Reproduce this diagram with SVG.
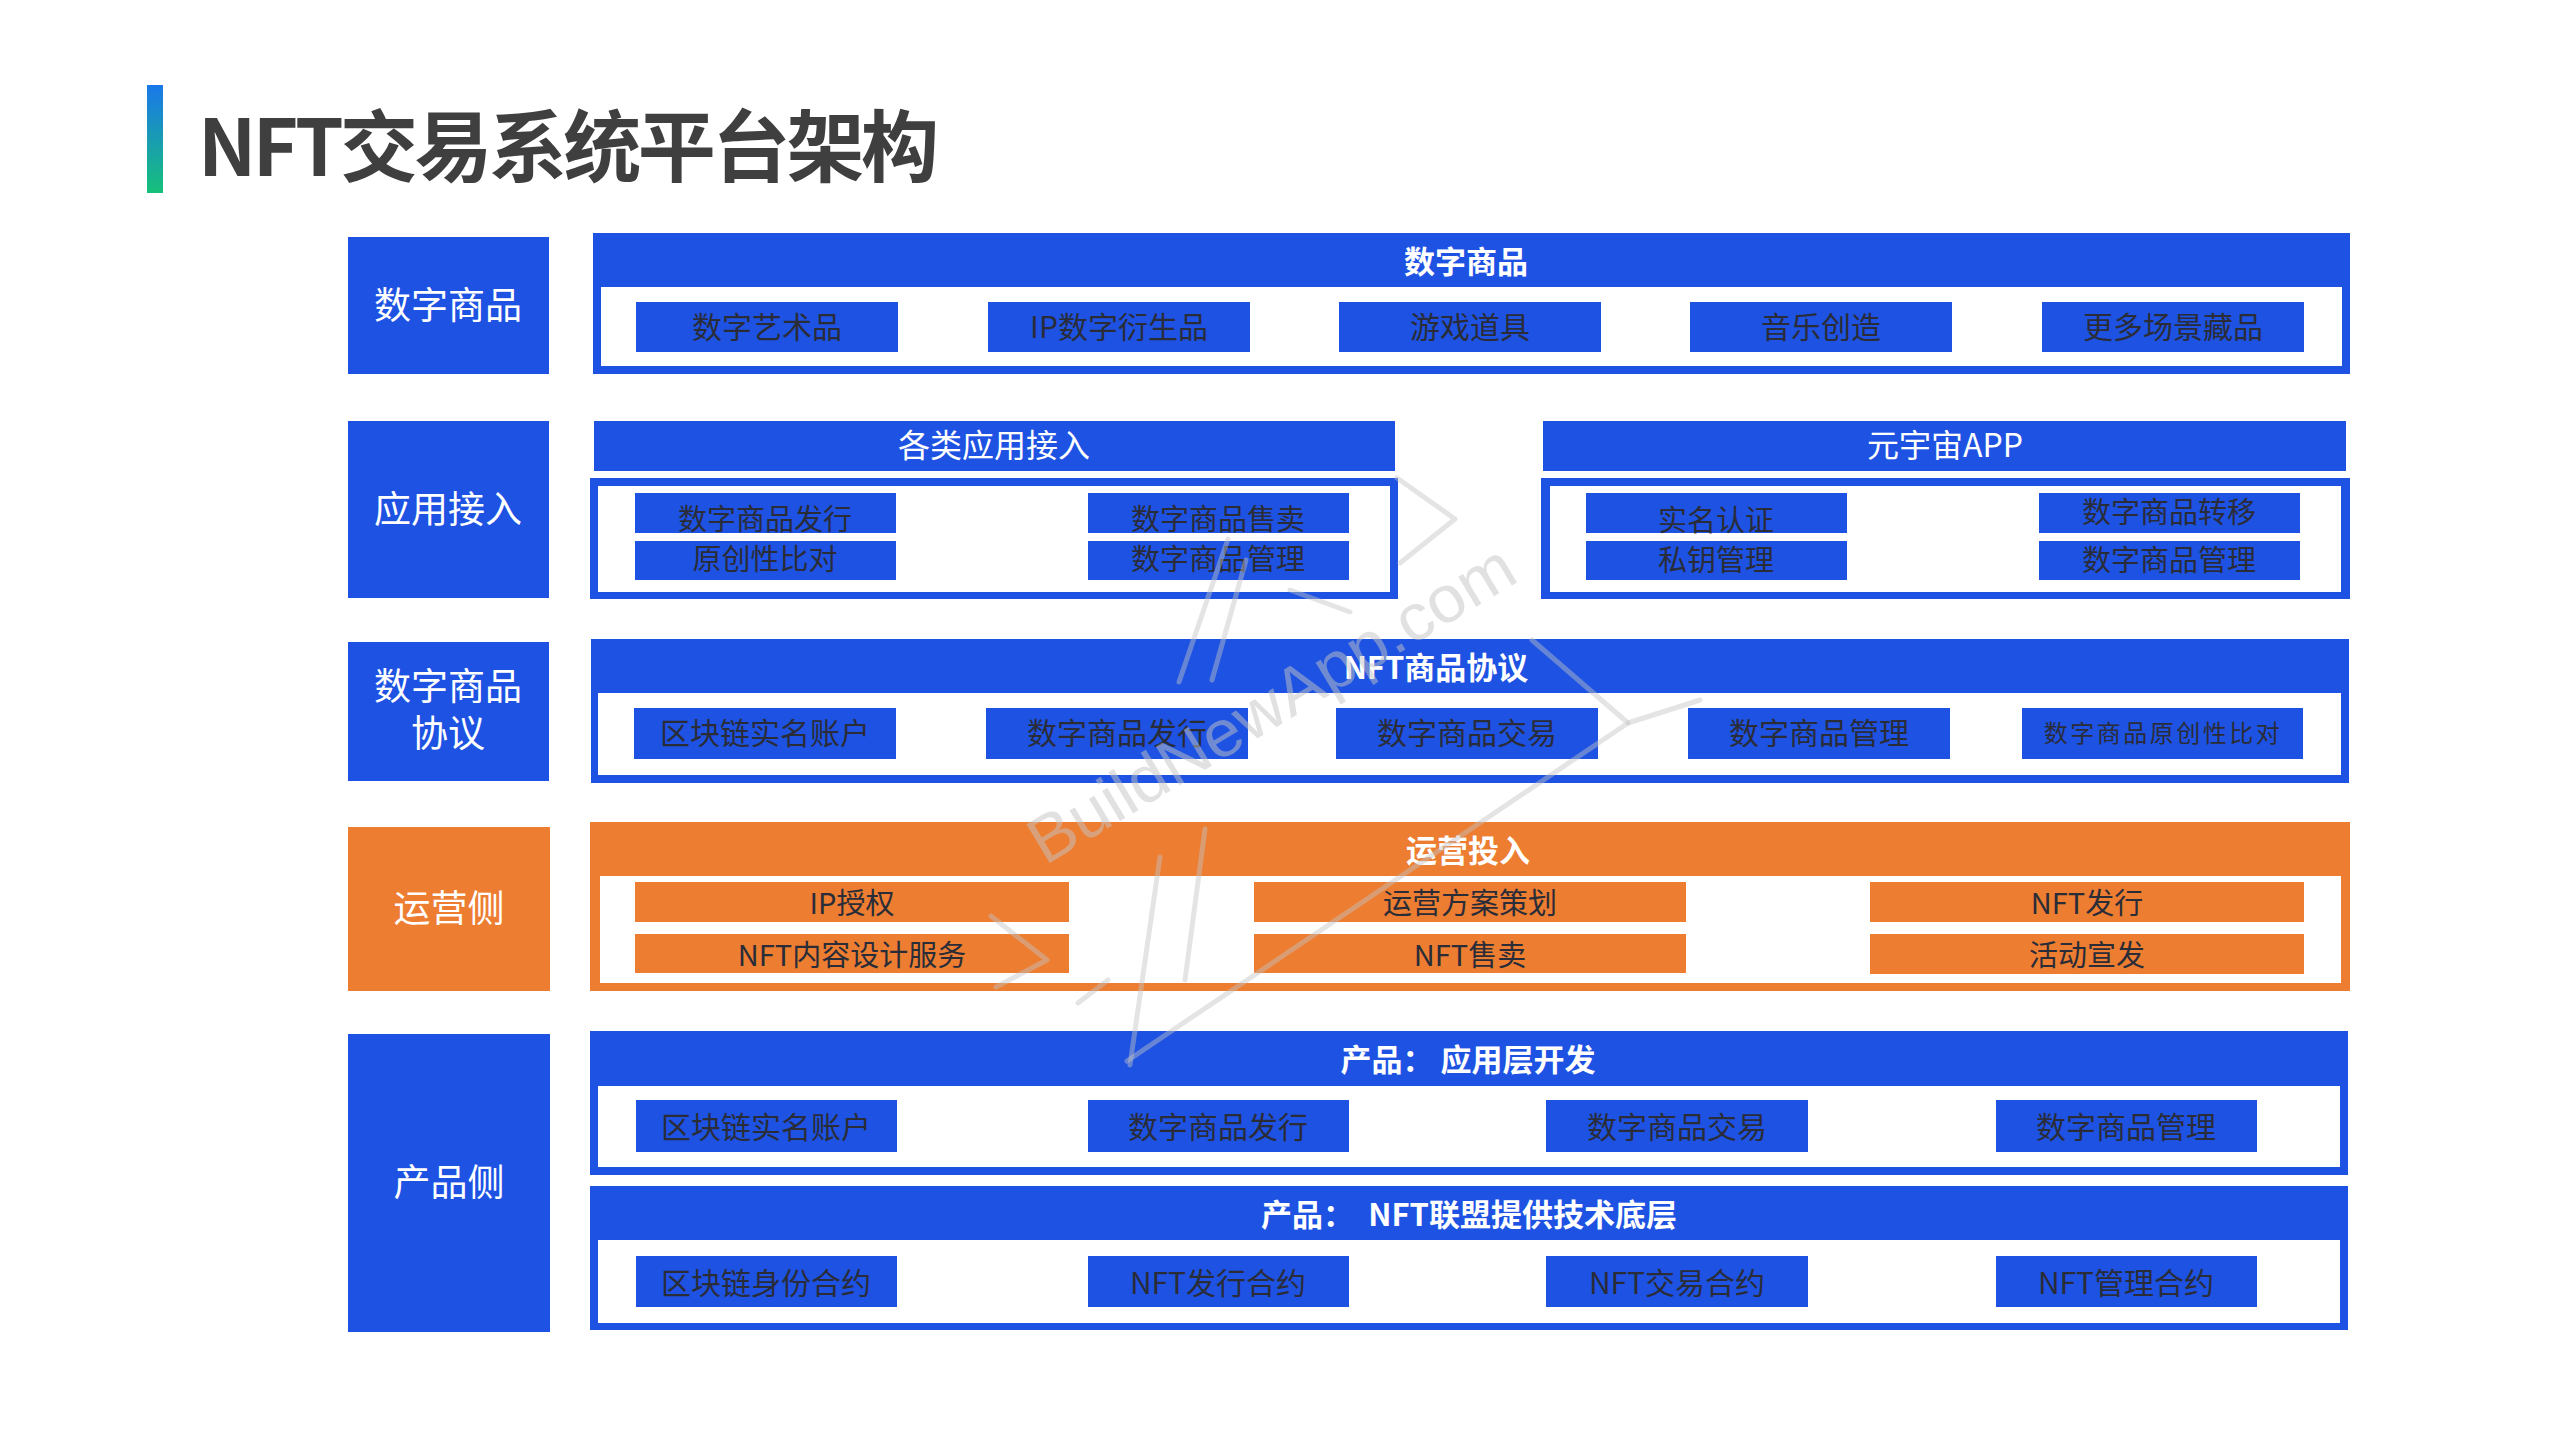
<svg xmlns="http://www.w3.org/2000/svg" width="2560" height="1440" viewBox="0 0 2560 1440">
<defs>
<linearGradient id="barGrad" x1="0" y1="0" x2="0" y2="1">
<stop offset="0" stop-color="#1a78ea"/>
<stop offset="1" stop-color="#17c07a"/>
</linearGradient>
<style>
.t{font-family:"Noto Sans CJK SC","Noto Sans",sans-serif;text-anchor:middle;dominant-baseline:central;}
.blue{fill:#1d52e3;}
.orange{fill:#ed7d31;}
.white{fill:#ffffff;}
.lbl{font-size:37px;fill:#ffffff;}
.hdr{font-size:31px;fill:#ffffff;font-weight:bold;}
.hdrn{font-size:32px;fill:#ffffff;}
.it{font-size:30px;fill:#2a2c38;}
.it2{font-size:29px;fill:#2a2c38;}
.its{font-size:24px;fill:#2a2c38;letter-spacing:2.5px;}
.wm{fill:none;stroke:#c4c4c4;stroke-width:5;stroke-linecap:round;stroke-linejoin:round;opacity:0.45;}
</style>
</defs>
<rect width="2560" height="1440" fill="#ffffff"/>

<g id="title">
<rect x="147" y="85" width="16" height="108" fill="url(#barGrad)"/>
<text x="198" y="142" font-family="'Noto Sans CJK SC','Noto Sans',sans-serif" font-size="78" font-weight="bold" fill="#3f3f3f" dominant-baseline="central" textLength="741" lengthAdjust="spacing">NFT交易系统平台架构</text>
</g>

<!-- Left labels -->
<g id="label-digital-goods">
<rect class="blue" x="348" y="237" width="201" height="137"/>
<text class="t lbl" x="448" y="303">数字商品</text>
</g>
<g id="label-app-access">
<rect class="blue" x="348" y="421" width="201" height="177"/>
<text class="t lbl" x="448" y="507">应用接入</text>
</g>
<g id="label-protocol">
<rect class="blue" x="348" y="642" width="201" height="139"/>
<text class="t lbl" x="448" y="684"><tspan x="448" y="684">数字商品</tspan><tspan x="448" y="731">协议</tspan></text>
</g>
<g id="label-operation">
<rect class="orange" x="348" y="827" width="202" height="164"/>
<text class="t lbl" x="449" y="906">运营侧</text>
</g>
<g id="label-product">
<rect class="blue" x="348" y="1034" width="202" height="298"/>
<text class="t lbl" x="449" y="1180">产品侧</text>
</g>

<!-- Row 1 -->
<g id="panel-digital-goods">
<rect class="blue" x="593" y="233" width="1757" height="141"/>
<rect class="white" x="601" y="287" width="1741" height="79"/>
<text class="t hdr" x="1466" y="259">数字商品</text>
<rect class="blue" x="636" y="302" width="262" height="50"/>
<text class="t it" x="767" y="325">数字艺术品</text>
<rect class="blue" x="988" y="302" width="262" height="50"/>
<text class="t it" x="1119" y="325">IP数字衍生品</text>
<rect class="blue" x="1339" y="302" width="262" height="50"/>
<text class="t it" x="1470" y="325">游戏道具</text>
<rect class="blue" x="1690" y="302" width="262" height="50"/>
<text class="t it" x="1821" y="325">音乐创造</text>
<rect class="blue" x="2042" y="302" width="262" height="50"/>
<text class="t it" x="2173" y="325">更多场景藏品</text>
</g>

<!-- Row 2 left -->
<g id="panel-app-access">
<rect class="blue" x="594" y="421" width="801" height="50"/>
<text class="t hdrn" x="994" y="443">各类应用接入</text>
<rect class="blue" x="590" y="478" width="808" height="121"/>
<rect class="white" x="598" y="486" width="792" height="106"/>
<rect class="blue" x="635" y="493" width="261" height="40"/>
<text class="t it2" x="765" y="517">数字商品发行</text>
<rect class="blue" x="635" y="541" width="261" height="39"/>
<text class="t it2" x="765" y="557">原创性比对</text>
<rect class="blue" x="1088" y="493" width="261" height="40"/>
<text class="t it2" x="1218" y="517">数字商品售卖</text>
<rect class="blue" x="1088" y="541" width="261" height="39"/>
<text class="t it2" x="1218" y="557">数字商品管理</text>
</g>

<!-- Row 2 right -->
<g id="panel-metaverse-app">
<rect class="blue" x="1543" y="421" width="803" height="50"/>
<text class="t hdrn" x="1945" y="443">元宇宙APP</text>
<rect class="blue" x="1541" y="478" width="809" height="121"/>
<rect class="white" x="1550" y="486" width="791" height="106"/>
<rect class="blue" x="1586" y="493" width="261" height="40"/>
<text class="t it2" x="1716" y="518">实名认证</text>
<rect class="blue" x="1586" y="541" width="261" height="39"/>
<text class="t it2" x="1716" y="558">私钥管理</text>
<rect class="blue" x="2039" y="493" width="261" height="40"/>
<text class="t it2" x="2169" y="510">数字商品转移</text>
<rect class="blue" x="2039" y="541" width="261" height="39"/>
<text class="t it2" x="2169" y="558">数字商品管理</text>
</g>

<!-- Row 3 -->
<g id="panel-nft-protocol">
<rect class="blue" x="591" y="639" width="1758" height="144"/>
<rect class="white" x="598" y="693" width="1743" height="82"/>
<text class="t hdr" x="1436" y="665">NFT商品协议</text>
<rect class="blue" x="634" y="708" width="262" height="51"/>
<text class="t it" x="765" y="731">区块链实名账户</text>
<rect class="blue" x="986" y="708" width="262" height="51"/>
<text class="t it" x="1117" y="731">数字商品发行</text>
<rect class="blue" x="1336" y="708" width="262" height="51"/>
<text class="t it" x="1467" y="731">数字商品交易</text>
<rect class="blue" x="1688" y="708" width="262" height="51"/>
<text class="t it" x="1819" y="731">数字商品管理</text>
<rect class="blue" x="2022" y="708" width="281" height="51"/>
<text class="t its" x="2163" y="731">数字商品原创性比对</text>
</g>

<!-- Row 4 -->
<g id="panel-operation">
<rect class="orange" x="590" y="822" width="1760" height="169"/>
<rect class="white" x="600" y="876" width="1741" height="107"/>
<text class="t hdr" x="1468" y="848">运营投入</text>
<rect class="orange" x="635" y="882" width="434" height="40"/>
<text class="t it2" x="852" y="901">IP授权</text>
<rect class="orange" x="635" y="934" width="434" height="39"/>
<text class="t it2" x="852" y="953">NFT内容设计服务</text>
<rect class="orange" x="1254" y="882" width="432" height="40"/>
<text class="t it2" x="1470" y="901">运营方案策划</text>
<rect class="orange" x="1254" y="934" width="432" height="39"/>
<text class="t it2" x="1470" y="953">NFT售卖</text>
<rect class="orange" x="1870" y="882" width="434" height="40"/>
<text class="t it2" x="2087" y="901">NFT发行</text>
<rect class="orange" x="1870" y="934" width="434" height="40"/>
<text class="t it2" x="2087" y="953">活动宣发</text>
</g>

<!-- Row 5a -->
<g id="panel-product-app">
<rect class="blue" x="590" y="1031" width="1758" height="144"/>
<rect class="white" x="598" y="1086" width="1742" height="81"/>
<text class="t hdr" x="1468" y="1057" xml:space="preserve">产品： 应用层开发</text>
<rect class="blue" x="636" y="1100" width="261" height="52"/>
<text class="t it" x="766" y="1125">区块链实名账户</text>
<rect class="blue" x="1088" y="1100" width="261" height="52"/>
<text class="t it" x="1218" y="1125">数字商品发行</text>
<rect class="blue" x="1546" y="1100" width="262" height="52"/>
<text class="t it" x="1677" y="1125">数字商品交易</text>
<rect class="blue" x="1996" y="1100" width="261" height="52"/>
<text class="t it" x="2126" y="1125">数字商品管理</text>
</g>

<!-- Row 5b -->
<g id="panel-product-base">
<rect class="blue" x="590" y="1186" width="1758" height="144"/>
<rect class="white" x="598" y="1240" width="1742" height="83"/>
<text class="t hdr" x="1469" y="1212" xml:space="preserve">产品：  NFT联盟提供技术底层</text>
<rect class="blue" x="636" y="1256" width="261" height="51"/>
<text class="t it" x="766" y="1281">区块链身份合约</text>
<rect class="blue" x="1088" y="1256" width="261" height="51"/>
<text class="t it" x="1218" y="1281">NFT发行合约</text>
<rect class="blue" x="1546" y="1256" width="262" height="51"/>
<text class="t it" x="1677" y="1281">NFT交易合约</text>
<rect class="blue" x="1996" y="1256" width="261" height="51"/>
<text class="t it" x="2126" y="1281">NFT管理合约</text>
</g>

<g id="connectors"></g>

<!-- Watermark -->
<g id="watermark">
<polyline class="wm" points="1397,478 1455,519 1400,563"/>
<polyline class="wm" points="1290,590 1350,612"/>
<line class="wm" x1="1228" y1="539" x2="1179" y2="682"/>
<line class="wm" x1="1246" y1="560" x2="1212" y2="680"/>
<polyline class="wm" points="1532,640 1628,723 1127,1061"/>
<line class="wm" x1="1628" y1="723" x2="1700" y2="700"/>
<line class="wm" x1="1205" y1="829" x2="1185" y2="980"/>
<line class="wm" x1="1160" y1="857" x2="1130" y2="1065"/>
<polyline class="wm" points="991,916 1047,960 996,987"/>
<polyline class="wm" points="1078,1003 1108,980"/>
<text x="1045" y="866" transform="rotate(-31 1045 866)" font-family="'Liberation Sans',sans-serif" font-size="66" fill="#c4c4c4" opacity="0.5" textLength="555" lengthAdjust="spacingAndGlyphs">BuildNewApp.com</text>
</g>
</svg>
